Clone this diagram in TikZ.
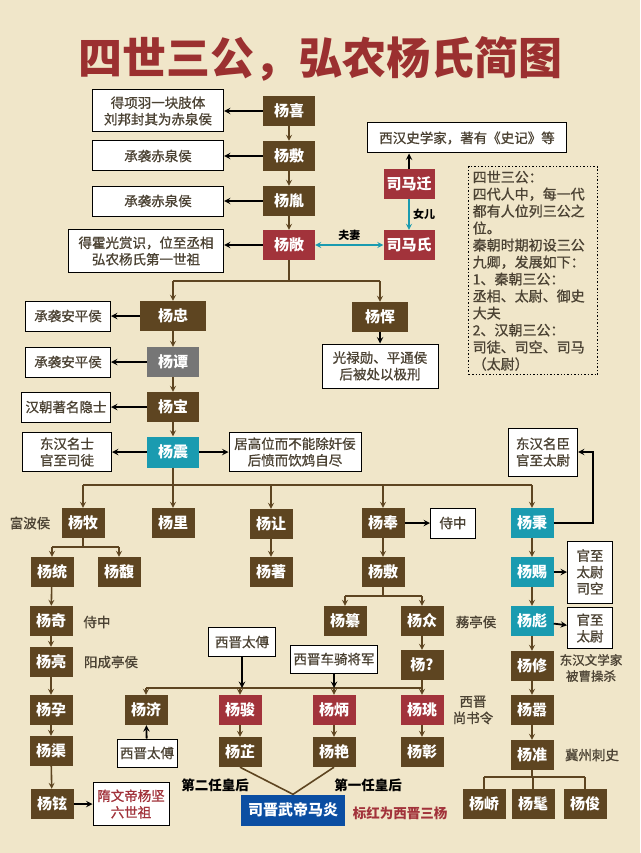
\documentclass[tikz,border=0pt]{standalone}
\usepackage{fontspec}
\setmainfont{Noto Sans CJK SC}
\newfontfamily\medfont{Noto Sans CJK SC}[FakeBold=0.9]
\usetikzlibrary{positioning}
\definecolor{bgc}{RGB}{240,230,201}
\definecolor{brownc}{RGB}{94,69,33}
\definecolor{redc}{RGB}{162,51,59}
\definecolor{tealc}{RGB}{26,155,176}
\definecolor{grayc}{RGB}{118,118,118}
\definecolor{bluec}{RGB}{11,78,162}
\definecolor{textc}{RGB}{75,66,51}
\definecolor{titlec}{RGB}{155,48,48}
\tikzset{
  person/.style={fill=brownc, text=white, font=\fontsize{15}{18}\selectfont\bfseries,
    minimum width=43pt, minimum height=30pt, inner sep=0pt},
  redp/.style={person, fill=redc},
  tealp/.style={person, fill=tealc},
  grayp/.style={person, fill=grayc},
  note/.style={draw=black, line width=1pt, fill=white, text=textc,
    font=\fontsize{13.5}{16.5}\selectfont\medfont, align=center, inner sep=0pt},
  tag/.style={text=textc, font=\fontsize{13.5}{16.5}\selectfont\medfont, align=center},
  kin/.style={draw=brownc, line width=1.6pt, ->},
  fact/.style={draw=black, line width=1.8pt, ->},
  wed/.style={draw=tealc, line width=1.6pt, ->}
}
\begin{document}
\begin{tikzpicture}[>=stealth, x=1pt, y=-1pt]
  \fill[bgc] (0,0) rectangle (640,853);
  \node[font=\fontsize{44}{50}\selectfont\bfseries, text=titlec] (title) at (320,59) {四世三公，弘农杨氏简图};

  \node[person, minimum width=52pt] (xi) at (289,111) {杨喜};
  \node[person, minimum width=52pt] (fuA) at (289,156) {杨敷};
  \node[person, minimum width=52pt] (yin) at (289,201) {杨胤};
  \node[redp, minimum width=52pt] (chang) at (289,245) {杨敞};
  \node[redp, minimum width=51pt] (qian) at (409,184) {司马迁};
  \node[redp, minimum width=51pt] (mashi) at (409,245) {司马氏};
  \node[note, minimum width=199pt, minimum height=30pt] (shiji) at (467,138) {西汉史学家，著有《史记》等};

  \node[note, minimum width=131pt, minimum height=42pt] (xinote) at (158,111) {得项羽一块肢体\\刘邦封其为赤泉侯};
  \node[note, minimum width=131pt, minimum height=30pt] (funote) at (158,156) {承袭赤泉侯};
  \node[note, minimum width=131pt, minimum height=30pt] (yinnote) at (158,201) {承袭赤泉侯};
  \node[note, minimum width=155pt, minimum height=43pt] (changnote) at (146,251) {得霍光赏识，位至丞相\\弘农杨氏第一世祖};

  \node[draw=black, dotted, line width=1.4pt, text=textc, font=\fontsize{14}{17}\selectfont\medfont,
    align=left, text width=121pt, inner sep=4pt, anchor=north west] (intro) at (468,166)
    {四世三公：\\四代人中，每一代\\都有人位列三公之\\位。\\秦朝时期初设三公\\九卿，发展如下：\\1、秦朝三公：\\丞相、太尉、御史\\大夫\\2、汉朝三公：\\司徒、司空、司马\\（太尉）};

  \node[person, minimum width=66pt] (zhong) at (173,316) {杨忠};
  \node[person, minimum width=56pt] (yun) at (380,317) {杨恽};
  \node[note, minimum width=116pt, minimum height=44pt] (yunnote) at (380,366) {光禄勋、平通侯\\后被处以极刑};
  \node[note, minimum width=85pt, minimum height=30pt] (zhongnote) at (68,316) {承袭安平侯};
  \node[grayp, minimum width=52pt] (tan) at (173,362) {杨谭};
  \node[note, minimum width=85pt, minimum height=30pt] (tannote) at (68,362) {承袭安平侯};
  \node[person, minimum width=52pt] (bao) at (173,407) {杨宝};
  \node[note, minimum width=89pt, minimum height=30pt] (baonote) at (66,407) {汉朝著名隐士};
  \node[tealp, minimum width=52pt, minimum height=31pt] (zhen) at (173,452) {杨震};
  \node[note, minimum width=89pt, minimum height=39pt] (zhenL) at (67,452) {东汉名士\\官至司徒};
  \node[note, minimum width=132pt, minimum height=39pt] (zhenR) at (295,452) {居高位而不能除奸佞\\后愤而饮鸩自尽};

  \node[person] (mu) at (83,523) {杨牧};
  \node[tag] (mutag) at (30,523) {富波侯};
  \node[person] (li) at (173,523) {杨里};
  \node[person] (rang) at (271,524) {杨让};
  \node[person] (feng) at (383,523) {杨奉};
  \node[note, minimum width=45pt, minimum height=30pt] (fengnote) at (453,523) {侍中};
  \node[tealp] (bing) at (532,523) {杨秉};
  \node[note, minimum width=69pt, minimum height=48pt] (bingnote) at (543,452) {东汉名臣\\官至太尉};

  \node[person] (tong) at (52,572) {杨统};
  \node[person] (fuB) at (119,572) {杨馥};
  \node[person] (zhu) at (271,572) {杨著};
  \node[person] (fuC) at (383,572) {杨敷};
  \node[tealp] (ci) at (532,572) {杨赐};
  \node[note, minimum width=45pt, minimum height=62pt] (cinote) at (590,572) {官至\\太尉\\司空};

  \node[person] (qi) at (51,621) {杨奇};
  \node[tag] (qitag) at (97,622) {侍中};
  \node[person] (zuan) at (345,621) {杨纂};
  \node[person] (zhongB) at (422,621) {杨众};
  \node[tag] (zhongtag) at (476,622) {蓩亭侯};
  \node[tealp] (biao) at (532,621) {杨彪};
  \node[note, minimum width=45pt, minimum height=41pt] (biaonote) at (590,628) {官至\\太尉};

  \node[person] (liang) at (51,662) {杨亮};
  \node[tag] (liangtag) at (111,662) {阳成亭侯};
  \node[person] (yq) at (422,665) {杨?};
  \node[person] (xiu) at (532,666) {杨修};
  \node[tag, font=\fontsize{12.5}{16}\selectfont\medfont] (xiutag) at (591,668) {东汉文学家\\被曹操杀};
  \node[note, minimum width=67pt, minimum height=29pt] (junnote) at (242,642) {西晋太傅};
  \node[note, minimum width=87pt, minimum height=28pt] (bingnoteB) at (334,659) {西晋车骑将军};

  \node[person] (yunB) at (51,710) {杨孕};
  \node[person] (ji) at (146,710) {杨济};
  \node[redp] (jun) at (240,710) {杨骏};
  \node[redp] (bingB) at (334,710) {杨炳};
  \node[redp] (yao) at (422,710) {杨珧};
  \node[tag] (yaotag) at (473,710) {西晋\\尚书令};
  \node[person] (xiao) at (532,710) {杨嚣};

  \node[note, minimum width=60pt, minimum height=28pt] (jinote) at (147,753) {西晋太傅};
  \node[person] (qu) at (51,751) {杨渠};
  \node[person] (zhi) at (240,752) {杨芷};
  \node[person] (yan) at (334,752) {杨艳};
  \node[person] (zhang) at (422,752) {杨彰};
  \node[person] (zhun) at (532,755) {杨准};
  \node[tag] (zhuntag) at (592,755) {冀州刺史};

  \node[person] (xuan) at (52,804) {杨铉};
  \node[note, minimum width=76pt, minimum height=43pt, text=redc] (suinote) at (131,804) {隋文帝杨坚\\六世祖};
  \node[person, fill=bluec, minimum width=104pt, minimum height=31pt] (emperor) at (293,810) {司晋武帝马炎};
  \node[font=\fontsize{13.5}{16}\selectfont\bfseries] (hou2) at (215,785) {第二任皇后};
  \node[font=\fontsize{13.5}{16}\selectfont\bfseries] (hou1) at (368,785) {第一任皇后};
  \node[text=redc, font=\fontsize{13.5}{16}\selectfont\bfseries] (legend) at (400,813) {标红为西晋三杨};
  \node[person] (qiao) at (484,804) {杨峤};
  \node[person] (mao) at (533,804) {杨髦};
  \node[person] (junB) at (585,804) {杨俊};

  \coordinate (br1) at (289,281);
  \coordinate (br2) at (173,485);
  \coordinate (br3) at (422,688);
  \coordinate (bingturn) at (593,452);

  \foreach \a/\b in {xi/fuA, fuA/yin, yin/chang, zhong/tan, tan/bao, bao/zhen,
      rang/zhu, feng/fuC, bing/ci, ci/biao, biao/xiu, xiu/xiao, xiao/zhun,
      tong/qi, qi/liang, liang/yunB, yunB/qu, qu/xuan, zhongB/yq, yq/yao,
      jun/zhi, bingB/yan, yao/zhang} {
    \draw[kin] (\a) -- (\b);
  }
  \draw[brownc, line width=1.6pt] (chang.south) -- (br1) (zhong.north |- br1) -- (yun.north |- br1);
  \foreach \n in {zhong,yun} {
    \draw[kin] (\n.north |- br1) -- (\n.north);
  }
  \draw[brownc, line width=1.6pt] (zhen.south) -- (br2) (mu.north |- br2) -- (bing.north |- br2);
  \foreach \n in {mu,li,rang,feng,bing} {
    \draw[kin] (\n.north |- br2) -- (\n.north);
  }
  \draw[brownc, line width=1.6pt] (mu.south) -- ++(0,9) coordinate (br5)
    (tong.north |- br5) -- (fuB.north |- br5);
  \foreach \n in {tong,fuB} {
    \draw[kin] (\n.north |- br5) -- (\n.north);
  }
  \draw[brownc, line width=1.6pt] (fuC.south) -- ++(0,9) coordinate (br6)
    (zuan.north |- br6) -- (zhongB.north |- br6);
  \foreach \n in {zuan,zhongB} {
    \draw[kin] (\n.north |- br6) -- (\n.north);
  }
  \draw[brownc, line width=1.6pt] (ji.north |- br3) -- (br3);
  \foreach \n in {ji,jun,bingB} {
    \draw[kin] (\n.north |- br3) -- (\n.north);
  }
  \draw[brownc, line width=1.6pt] (zhun.south) -- ++(0,7) coordinate (br4)
    (qiao.north |- br4) -- (junB.north |- br4);
  \foreach \n in {qiao,mao,junB} {
    \draw[brownc, line width=1.6pt] (\n.north |- br4) -- (\n.north);
  }
  \draw[brownc, line width=1.6pt] (zhi.south) -- (emperor.north) -- (yan.south);

  \foreach \a/\b in {xi/xinote, fuA/funote, yin/yinnote, zhong/zhongnote, tan/tannote,
      bao/baonote, zhen/zhenL, zhen/zhenR, yun/yunnote, feng/fengnote, ci/cinote,
      biao/biaonote, xuan/suinote, jinote/ji} {
    \draw[fact] (\a) -- (\b);
  }
  \draw[fact] (chang.west) -- (chang.west -| changnote.east);
  \draw[fact] (qian.north) -- (qian.north |- shiji.south);
  \draw[fact] (bing.east) -| (bingturn) -- (bingnote.east);
  \draw[fact] (junnote.south) -- (junnote.south |- br3);
  \draw[fact] (bingnoteB.south) -- (bingnoteB.south |- br3);

  \draw[wed] (qian) -- node[right, text=black, font=\fontsize{11}{13}\selectfont\bfseries] (nver) {女儿} (mashi);
  \draw[wed, <->] (chang) -- node[above, text=black, font=\fontsize{11}{13}\selectfont\bfseries] (fuqi) {夫妻} (mashi);
\end{tikzpicture}
\end{document}
